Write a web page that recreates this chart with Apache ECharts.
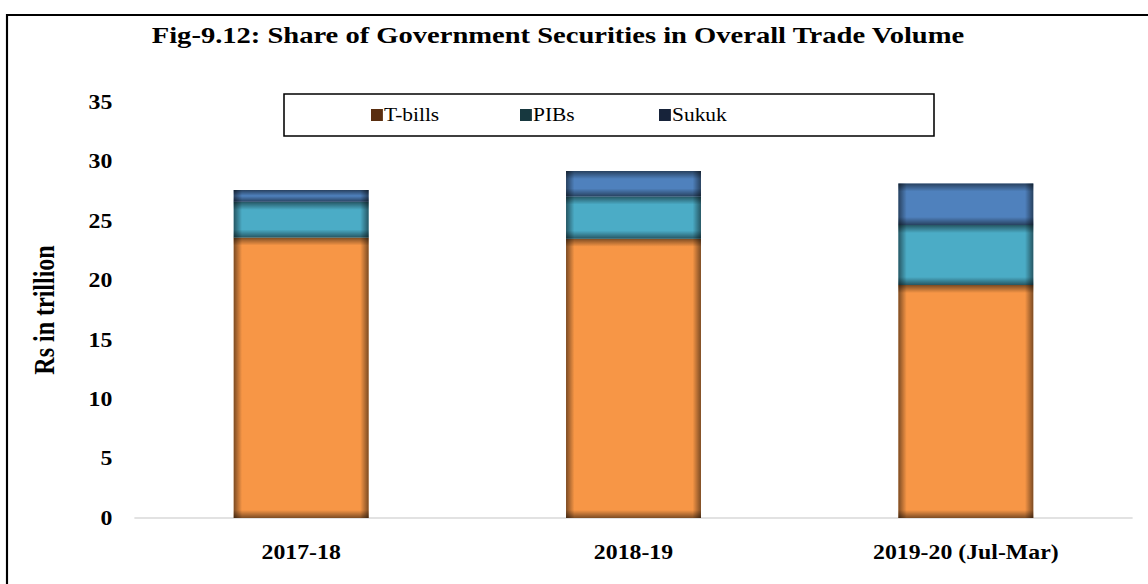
<!DOCTYPE html>
<html>
<head>
<meta charset="utf-8">
<script src="https://cdn.jsdelivr.net/npm/echarts@6/dist/echarts.min.js"></script>
<style>
html,body{margin:0;padding:0;background:#fff;overflow:hidden;}
#wrap{width:1148px;height:584px;overflow:hidden;}
#main{width:965px;height:584px;transform:scaleX(1.18964);transform-origin:0 0;}
</style>
</head>
<body>
<div id="wrap"><div id="main"></div></div>
<script>
const categories = ['2017-18', '2018-19', '2019-20 (Jul-Mar)'];
const tbills = [23.6, 23.5, 19.6];
const pibs = [3.0, 3.55, 5.05];
const sukuk = [1.0, 2.15, 3.5];
const yTicks = [0, 5, 10, 15, 20, 25, 30, 35];
const seriesNames = ['T-bills', 'PIBs', 'Sukuk'];

const fills = ['#F79646', '#4BACC6', '#4F81BD'];
const legendColors = ['#5A2E10', '#17383F', '#17233A'];
const FONT = '"Liberation Serif", "Times New Roman", serif';
const S = 1148 / 965; // horizontal stretch of the picture
const X = v => v / S;  // page x -> chart x

const seriesValues = [tbills, pibs, sukuk];
function stackedData(k) {
  return categories.map((c, i) => {
    let base = 0;
    for (let j = 0; j < k; j++) base += seriesValues[j][i];
    return [i, base, base + seriesValues[k][i]];
  });
}

function makeRender(color) {
  return function (params, api) {
    const cat = api.value(0);
    const lo = api.coord([cat, api.value(1)]);
    const hi = api.coord([cat, api.value(2)]);
    const bw = api.size([1, 0])[0] * 0.406;
    const x = lo[0] - bw / 2;
    const y = hi[1];
    const h = lo[1] - hi[1];
    const ex = Math.min(0.5, 7 / bw);
    const ey = Math.min(0.5, 8 / h);
    const dark = 'rgba(0,0,0,0.5)';
    const clear = 'rgba(0,0,0,0)';
    return {
      type: 'group',
      children: [
        { type: 'rect', shape: { x: x, y: y, width: bw, height: h }, style: { fill: color } },
        { type: 'rect', shape: { x: x, y: y, width: bw, height: h },
          style: { fill: new echarts.graphic.LinearGradient(0, 0, 1, 0, [
            { offset: 0, color: dark }, { offset: ex, color: clear },
            { offset: 1 - ex, color: clear }, { offset: 1, color: dark }]) } },
        { type: 'rect', shape: { x: x, y: y, width: bw, height: h },
          style: { fill: new echarts.graphic.LinearGradient(0, 0, 0, 1, [
            { offset: 0, color: dark }, { offset: ey, color: clear },
            { offset: 1 - ey, color: clear }, { offset: 1, color: dark }]) } }
      ]
    };
  };
}

const chart = echarts.init(document.getElementById('main'), null, { renderer: 'svg', width: 965, height: 584 });
const legendLefts = [371, 520, 659];
const option = {
  animation: false,
  backgroundColor: '#fff',
  title: {
    text: 'Fig-9.12: Share of Government Securities in Overall Trade Volume',
    left: X(552), top: 18, textAlign: 'center',
    textStyle: { fontFamily: FONT, fontWeight: 'bold', fontSize: 24, color: '#000' }
  },
  legend: seriesNames.map((n, k) => ({
    data: [{ name: n, itemStyle: { color: legendColors[k] } }],
    left: X(legendLefts[k]), top: 106,
    itemWidth: 10, itemHeight: 12, itemGap: 0, padding: 0,
    icon: 'rect',
    textStyle: { fontFamily: FONT, fontSize: 18, color: '#000', padding: [0, 0, 0, -4] }
  })),
  graphic: [
    { type: 'rect', shape: { x: X(7), y: 15, width: 1000, height: 600 }, style: { fill: 'none', stroke: '#000', lineWidth: 1.8 }, silent: true },
    { type: 'rect', shape: { x: X(284), y: 94, width: X(650), height: 42 }, style: { fill: 'none', stroke: '#000', lineWidth: 1.3 }, silent: true }
  ],
  grid: { left: X(135), right: X(16), top: 102, bottom: 66 },
  xAxis: {
    type: 'category', data: categories,
    axisLine: { lineStyle: { color: '#d9d9d9', width: 1.5 } },
    axisTick: { show: false },
    axisLabel: { fontFamily: FONT, fontWeight: 'bold', fontSize: 20, color: '#000', margin: 24 }
  },
  yAxis: {
    type: 'value', min: yTicks[0], max: yTicks[yTicks.length - 1], interval: 5,
    name: 'Rs in trillion', nameLocation: 'middle', nameGap: 64, nameRotate: 90,
    nameTextStyle: { fontFamily: FONT, fontWeight: 'bold', fontSize: 24, color: '#000' },
    axisLine: { show: false }, axisTick: { show: false }, splitLine: { show: false },
    axisLabel: { fontFamily: FONT, fontWeight: 'bold', fontSize: 20, color: '#000', margin: 19 }
  },
  series: seriesNames.map((n, k) => ({
    name: n, type: 'custom',
    itemStyle: { color: legendColors[k] },
    encode: { x: 0, y: [1, 2] },
    data: stackedData(k),
    renderItem: makeRender(fills[k])
  }))
};
chart.setOption(option);
</script>
</body>
</html>
